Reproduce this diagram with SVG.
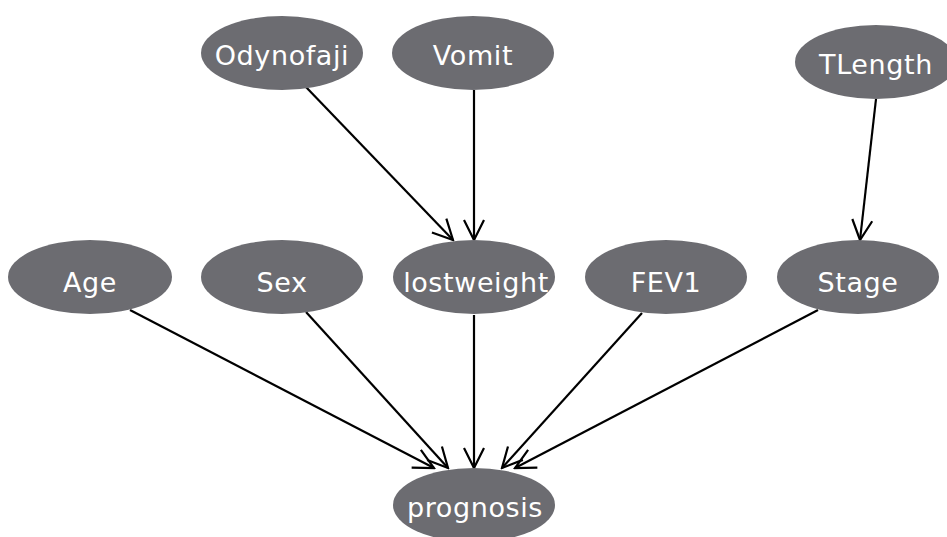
<svg xmlns="http://www.w3.org/2000/svg" width="947" height="537" viewBox="0 0 947 537">
  <style>
    .node ellipse { fill: #6c6c71; }
    .node text { fill: #ffffff; font-family: "DejaVu Sans", Verdana, sans-serif; font-size: 27px; letter-spacing: 0.6px; text-anchor: middle; }
    .edge { stroke: #000000; stroke-width: 2.2; fill: none; marker-end: url(#arrow); }
  </style>
  <defs>
    <marker id="arrow" markerUnits="userSpaceOnUse" markerWidth="24" markerHeight="24" viewBox="-22 -12 24 24" refX="0" refY="0" orient="auto">
      <path d="M-20,-10 L0,0 L-20,10" fill="none" stroke="#000000" stroke-width="2.2"/>
    </marker>
  </defs>

  <!-- connectors -->
  <g id="edges">
    <line class="edge" x1="305" y1="86" x2="453" y2="240"/>
    <line class="edge" x1="474" y1="90" x2="474" y2="240"/>
    <line class="edge" x1="876" y1="99" x2="860" y2="240"/>
    <line class="edge" x1="130" y1="310" x2="434" y2="468"/>
    <line class="edge" x1="306" y1="312" x2="448" y2="468"/>
    <line class="edge" x1="474" y1="315" x2="474" y2="468"/>
    <line class="edge" x1="642" y1="313" x2="502" y2="468"/>
    <line class="edge" x1="818" y1="310" x2="515" y2="468"/>
  </g>

  <!-- nodes -->
  <g id="Odynofaji" class="node">
    <ellipse cx="282" cy="53" rx="81" ry="37"/>
    <text x="282" y="65">Odynofaji</text>
  </g>
  <g id="Vomit" class="node">
    <ellipse cx="473" cy="53" rx="81" ry="37"/>
    <text x="473" y="65">Vomit</text>
  </g>
  <g id="TLength" class="node">
    <ellipse cx="876" cy="62" rx="81" ry="37"/>
    <text x="876" y="74">TLength</text>
  </g>
  <g id="Age" class="node">
    <ellipse cx="90" cy="277" rx="82" ry="37"/>
    <text x="90" y="292">Age</text>
  </g>
  <g id="Sex" class="node">
    <ellipse cx="282" cy="277" rx="81" ry="37"/>
    <text x="282" y="292">Sex</text>
  </g>
  <g id="lostweight" class="node">
    <ellipse cx="474" cy="277" rx="81" ry="37"/>
    <text x="476" y="292">lostweight</text>
  </g>
  <g id="FEV1" class="node">
    <ellipse cx="666" cy="277" rx="81" ry="37"/>
    <text x="666" y="292">FEV1</text>
  </g>
  <g id="Stage" class="node">
    <ellipse cx="858" cy="277" rx="81" ry="37"/>
    <text x="858" y="292">Stage</text>
  </g>
  <g id="prognosis" class="node">
    <ellipse cx="474" cy="505" rx="81" ry="37"/>
    <text x="475" y="517">prognosis</text>
  </g>
</svg>
